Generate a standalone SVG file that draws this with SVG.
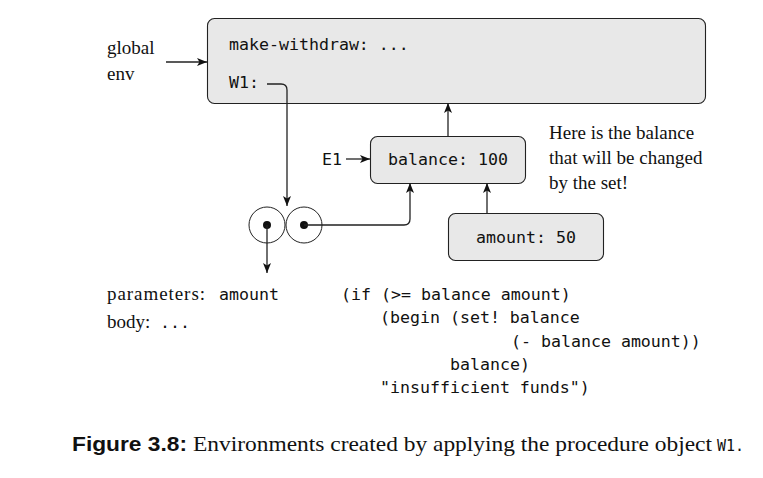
<svg xmlns="http://www.w3.org/2000/svg" width="763" height="478" viewBox="0 0 763 478">
<style>
.box{fill:#e8e8e8;stroke:#222;stroke-width:1.1}
.mono{font-family:"DejaVu Sans Mono","Liberation Mono",monospace;font-size:16.6px;fill:#111}
.txt{font-family:"Liberation Serif","DejaVu Serif",serif;font-size:19px;fill:#111}
.line{fill:none;stroke:#222;stroke-width:1.3}
.circ{fill:none;stroke:#222;stroke-width:1}
</style>
<defs>
<marker id="ah" viewBox="0 0 10 8" refX="10" refY="4" markerWidth="10" markerHeight="8" markerUnits="userSpaceOnUse" orient="auto">
<path d="M0,0 L10,4 L0,8 L2.5,4 Z" fill="#111"/>
</marker>
</defs>
<rect width="763" height="478" fill="#fff"/>

<g id="global-env">
<rect class="box" x="207.5" y="18.5" width="498" height="85" rx="7"/>
<text class="mono" x="229" y="50">make-withdraw: ...</text>
<text class="mono" x="229" y="88">W1:</text>
</g>
<g id="global-label">
<text class="txt" x="107" y="54">global</text>
<text class="txt" x="107" y="80">env</text>
</g>

<g id="E1">
<rect class="box" x="370.5" y="136.5" width="155" height="47" rx="7"/>
<text class="mono" x="448" y="165" text-anchor="middle">balance: 100</text>
</g>
<g id="E1-label">
<text class="mono" x="322" y="165">E1</text>
</g>

<g id="amount-frame">
<rect class="box" x="448.5" y="213.5" width="155" height="47" rx="7"/>
<text class="mono" x="526" y="243" text-anchor="middle">amount: 50</text>
</g>

<g id="note">
<text class="txt" x="549" y="139">Here is the balance</text>
<text class="txt" x="549" y="164">that will be changed</text>
<text class="txt" x="549" y="189">by the set!</text>
</g>

<g id="procedure">
<circle class="circ" cx="267" cy="225" r="18"/>
<circle class="circ" cx="304" cy="225" r="18"/>
<circle cx="267" cy="225" r="4" fill="#111"/>
<circle cx="304" cy="225" r="4" fill="#111"/>
</g>

<g id="proc-text">
<text class="txt" x="107" y="300" textLength="98" lengthAdjust="spacing">parameters:</text>
<text class="mono" x="219" y="300">amount</text>
<text class="txt" x="107" y="328">body:</text>
<text class="mono" x="160" y="328">...</text>
</g>

<g id="code">
<text class="mono" x="341" y="300">(if (&gt;= balance amount)</text>
<text class="mono" x="380" y="323">(begin (set! balance</text>
<text class="mono" x="511" y="347">(- balance amount))</text>
<text class="mono" x="450" y="370">balance)</text>
<text class="mono" x="380" y="393">"insufficient funds")</text>
</g>

<g id="connectors">
<path class="line" d="M166,62 H207" marker-end="url(#ah)"/>
<path class="line" d="M267,84 H281 Q287,84 287,90 V206" marker-end="url(#ah)"/>
<path class="line" d="M448,136 V103" marker-end="url(#ah)"/>
<path class="line" d="M346,159 H370" marker-end="url(#ah)"/>
<path class="line" d="M304,225 H404 Q410,225 410,219 V183" marker-end="url(#ah)"/>
<path class="line" d="M487,213 V183" marker-end="url(#ah)"/>
<path class="line" d="M267,225 V273" marker-end="url(#ah)"/>
</g>

<g id="caption">
<text x="72" y="451" font-family="'Liberation Sans','DejaVu Sans',sans-serif" font-weight="bold" font-size="20px" fill="#111" textLength="115" lengthAdjust="spacingAndGlyphs">Figure 3.8:</text>
<text x="193" y="451" font-family="'Liberation Serif','DejaVu Serif',serif" font-size="21px" fill="#111" textLength="519" lengthAdjust="spacingAndGlyphs">Environments created by applying the procedure object</text>
<text x="717" y="451" font-family="'DejaVu Sans Mono','Liberation Mono',monospace" font-size="15px" fill="#111">W1.</text>
</g>
</svg>
